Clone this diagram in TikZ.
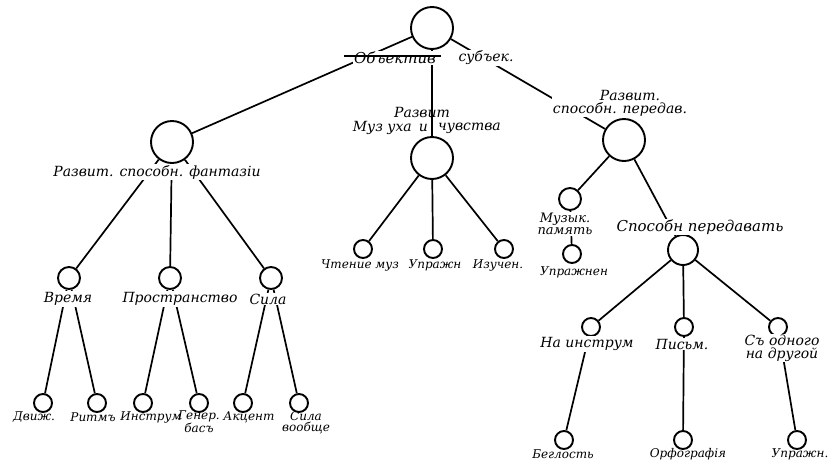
\documentclass[tikz,border=0pt]{standalone}
\usepackage{fontspec}
\setmainfont{DejaVu Serif}
\usepackage{tikz}
\usetikzlibrary{positioning}

\tikzset{
	knot/.style={circle, draw, line width=1.9pt, fill=white, inner sep=0pt},
	knotA/.style={knot, minimum size=42pt},
	knotB/.style={knot, minimum size=30pt},
	knotC/.style={knot, minimum size=22pt},
	knotD/.style={knot, minimum size=18pt},
	edge/.style={line width=1.7pt},
	lab/.style={font=\fontsize{14}{13}\selectfont\itshape, inner sep=1pt, align=center},
	labw/.style={lab, fill=white},
	leaf/.style={lab, font=\fontsize{12}{11.5}\selectfont\itshape}
}

\begin{document}
\begin{tikzpicture}[x=1pt, y=-1pt]
					\useasboundingbox (0,0) rectangle (835,464);

					\node[knotA] (root) at (432, 28) {};
					\node[knotA] (fant) at (172, 142) {};
					\node[knotA] (ucho) at (432, 158) {};
					\node[knotA] (pered) at (624, 140) {};

					\node[knotC] (vrem) at (69, 278) {};
					\node[knotC] (prost) at (170, 278) {};
					\node[knotC] (sila) at (271, 278) {};
					\node[knotD] (dvizh) at (43, 403) {};
					\node[knotD] (ritm) at (97, 403) {};
					\node[knotD] (instr) at (143, 403) {};
					\node[knotD] (genbas) at (199, 403) {};
					\node[knotD] (akcent) at (243, 403) {};
					\node[knotD] (silav) at (299, 403) {};

					\node[knotD] (chten) at (363, 249) {};
					\node[knotD] (uprmid) at (433, 249) {};
					\node[knotD] (izuch) at (504, 249) {};

					\node[knotC] (pamyat) at (570, 199) {};
					\node[knotD] (uprpam) at (572, 254) {};
					\node[knotB] (sposob) at (683, 250) {};
					\node[knotD] (nainstr) at (591, 327) {};
					\node[knotD] (pism) at (684, 327) {};
					\node[knotD] (odnogo) at (778, 327) {};
					\node[knotD] (beglost) at (564, 440) {};
					\node[knotD] (orfo) at (683, 440) {};
					\node[knotD] (uprlast) at (797, 440) {};

					\draw[edge] (root) -- (fant);
					\draw[edge] (root) -- (ucho);
					\draw[edge] (root) -- (pered);
					\draw[edge] (fant) -- (vrem);
					\draw[edge] (fant) -- (prost);
					\draw[edge] (fant) -- (sila);
					\draw[edge] (vrem) -- (dvizh);
					\draw[edge] (vrem) -- (ritm);
					\draw[edge] (prost) -- (instr);
					\draw[edge] (prost) -- (genbas);
					\draw[edge] (sila) -- (akcent);
					\draw[edge] (sila) -- (silav);
					\draw[edge] (ucho) -- (chten);
					\draw[edge] (ucho) -- (uprmid);
					\draw[edge] (ucho) -- (izuch);
					\draw[edge] (pered) -- (pamyat);
					\draw[edge] (pered) -- (sposob);
					\draw[edge] (pamyat) -- (uprpam);
					\draw[edge] (sposob) -- (nainstr);
					\draw[edge] (sposob) -- (pism);
					\draw[edge] (sposob) -- (odnogo);
					\draw[edge] (nainstr) -- (beglost);
					\draw[edge] (pism) -- (orfo);
					\draw[edge] (odnogo) -- (uprlast);

					\node[labw, font=\fontsize{15}{14}\selectfont\itshape] (rootA) at (395, 58) {Объектив};
					\node[labw] (rootB) at (486, 58) {субъек.};
					\draw[line width=1.3pt] ([xshift=-9pt, yshift=2pt]rootA.west) -- ([xshift=4pt, yshift=2pt]rootA.east);

					\node[labw] (fantlab) at (157, 172) {Развит. способн. фантазіи};
					\node[lab] (uchoA) at (422, 112) {Развит};
					\node[lab, anchor=east] (uchoB) at (429, 128) {Муз уха\enspace и};
					\node[lab, anchor=west] (uchoC) at (437, 128) {чувства};
					\node[labw] (peredlab) at (620, 103) {\hspace*{20pt}Развит.\\способн. передав.};

					\node[labw] (vremlab) at (68, 299) {Время};
					\node[labw] (prostlab) at (180, 299) {Пространство};
					\node[labw] (silalab) at (268, 299) {Сила};

					\node[leaf] (dvizhlab) at (34, 417) {Движ.};
					\node[leaf] (ritmlab) at (93, 417) {Ритмъ};
					\node[leaf] (instrlab) at (151, 417) {Инструм};
					\node[leaf, anchor=north] (genbaslab) at (199, 410) {Генер.\\басъ};
					\node[leaf] (akcentlab) at (249, 417) {Акцент};
					\node[leaf, anchor=north] (silavlab) at (306, 410) {Сила\\вообще};

					\node[leaf] (chtenlab) at (360, 265) {Чтение муз};
					\node[leaf] (uprmidlab) at (435, 265) {Упражн};
					\node[leaf] (izuchlab) at (498, 265) {Изучен.};

					\node[labw, font=\fontsize{13}{12}\selectfont\itshape] (pamyatlab) at (565, 224) {Музык.\\память};
					\node[leaf] (uprpamlab) at (574, 272) {Упражнен};
					\node[labw, font=\fontsize{15}{14}\selectfont\itshape] (sposoblab) at (700, 227) {Способн передавать};
					\node[labw] (nainstrlab) at (587, 344) {На инструм};
					\node[labw] (pismlab) at (682, 344) {Письм.};
					\node[labw] (odnogolab) at (782, 348) {Съ одного\\на другой};

					\node[leaf] (beglostlab) at (563, 454) {Беглость};
					\node[leaf] (orfolab) at (688, 454) {Орфографія};
					\node[leaf] (uprlastlab) at (800, 454) {Упражн.};
\end{tikzpicture}
\end{document}
